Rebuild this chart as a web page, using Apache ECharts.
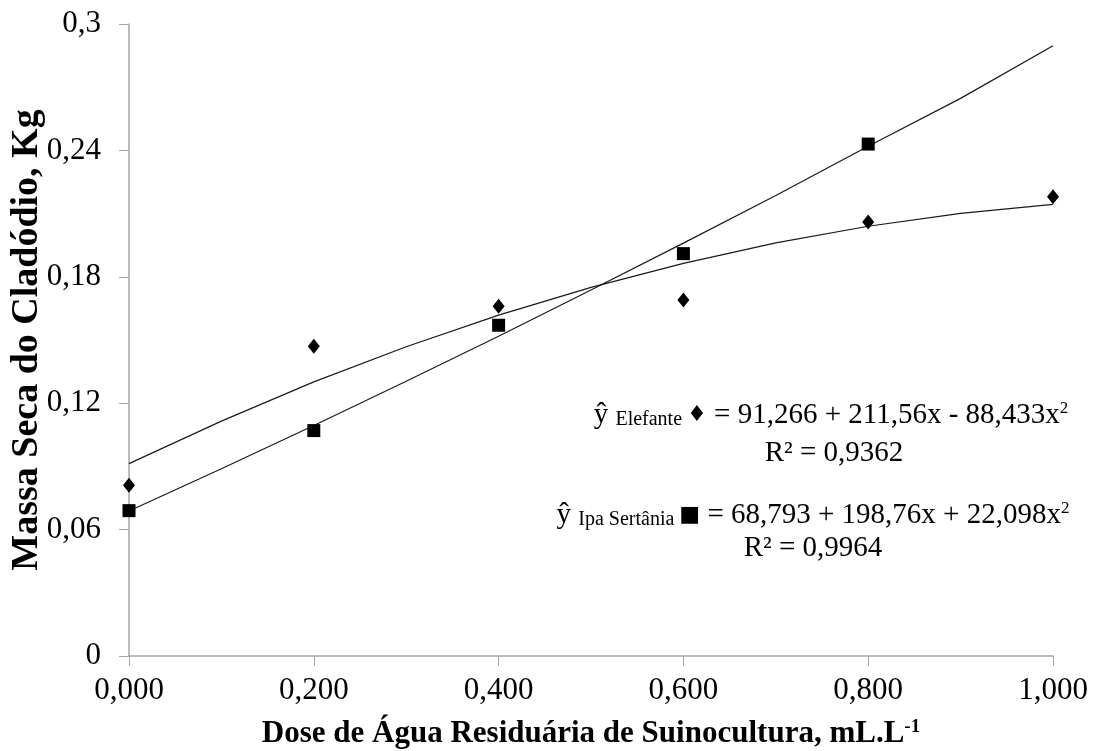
<!DOCTYPE html>
<html>
<head>
<meta charset="utf-8">
<script src="https://cdn.jsdelivr.net/npm/echarts@6/dist/echarts.min.js"></script>
<style>
html,body{margin:0;padding:0;background:#fff;}
#chart{width:1104px;height:751px;}
</style>
</head>
<body>
<div id="chart"></div>
<script>
// Observed doses (x) and measured values
var doses = [0, 0.2, 0.4, 0.6, 0.8, 1.0];
var elefante = [0.081, 0.147, 0.166, 0.169, 0.206, 0.218];
var ipaSertania = [0.069, 0.107, 0.157, 0.191, 0.243];
// Trend-line readings
var trendX = [0, 0.1, 0.2, 0.3, 0.4, 0.5, 0.6, 0.7, 0.8, 0.9, 1.0];
var elefanteTrend = [0.0913, 0.1115, 0.1301, 0.1468, 0.1618, 0.1750, 0.1864, 0.1961, 0.2040, 0.2101, 0.2144];
var ipaTrend = [0.0688, 0.0889, 0.1094, 0.1304, 0.1518, 0.1737, 0.1960, 0.2186, 0.2420, 0.2647, 0.2897];
var xTicks = {min: 0, max: 1, interval: 0.2};
var yTicks = {min: 0, max: 0.3, interval: 0.06};

function pairs(xs, ys) { return ys.map(function (v, i) { return [xs[i], v]; }); }

var FONT = '"Liberation Serif", "Times New Roman", serif';
var chart = echarts.init(document.getElementById('chart'));
var rich = {
  sub: {fontFamily: FONT, fontSize: 20, color: '#000', verticalAlign: 'bottom'},
  sup: {fontFamily: FONT, fontSize: 17, color: '#000', verticalAlign: 'top'},
  sym: {fontFamily: '"DejaVu Sans", sans-serif', fontSize: 22, color: '#000'},
  m: {fontFamily: FONT, fontSize: 29, color: '#000'}
};

chart.setOption({
  backgroundColor: '#fff',
  animation: false,
  grid: {left: 129, right: 51, top: 24, bottom: 95, containLabel: false, outerBoundsMode: 'none'},
  xAxis: {
    type: 'value', min: xTicks.min, max: xTicks.max, interval: xTicks.interval,
    splitLine: {show: false},
    axisLine: {lineStyle: {color: '#a6a6a6', width: 1.5}},
    axisTick: {show: true, length: 10, lineStyle: {color: '#a6a6a6'}},
    axisLabel: {fontFamily: FONT, fontSize: 31, color: '#000', margin: 19,
      formatter: function (v) { return v.toFixed(3).replace('.', ','); }},
    name: 'Dose de Água Residuária de Suinocultura, mL.L{sup|-1}',
    nameLocation: 'middle', nameGap: 62, nameMoveOverlap: false,
    nameTextStyle: {fontFamily: FONT, fontSize: 31, fontWeight: 'bold', color: '#000',
      rich: {sup: {fontFamily: FONT, fontSize: 19, fontWeight: 'bold', color: '#000', verticalAlign: 'top'}}}
  },
  yAxis: {
    type: 'value', min: yTicks.min, max: yTicks.max, interval: yTicks.interval,
    splitLine: {show: false},
    axisLine: {show: true, lineStyle: {color: '#a6a6a6', width: 1.5}},
    axisTick: {show: true, length: 10, lineStyle: {color: '#a6a6a6'}},
    axisLabel: {fontFamily: FONT, fontSize: 31, color: '#000', margin: 28,
      formatter: function (v) { return v === 0 ? '0' : String(Math.round(v * 100) / 100).replace('.', ','); }},
    name: 'Massa Seca do Cladódio, Kg',
    nameLocation: 'middle', nameGap: 83, nameMoveOverlap: false,
    nameTextStyle: {fontFamily: FONT, fontSize: 38, fontWeight: 'bold', color: '#000'}
  },
  series: [
    {type: 'line', data: pairs(trendX, elefanteTrend), showSymbol: false, symbol: 'none',
      lineStyle: {color: '#1a1a1a', width: 1.2}, z: 1, silent: true},
    {type: 'line', data: pairs(trendX, ipaTrend), showSymbol: false, symbol: 'none',
      lineStyle: {color: '#1a1a1a', width: 1.2}, z: 1, silent: true},
    {type: 'scatter', name: 'Elefante', data: pairs(doses, elefante), symbol: 'diamond',
      symbolSize: [12, 15], itemStyle: {color: '#000', opacity: 1}, z: 3},
    {type: 'scatter', name: 'Ipa Sertânia', data: pairs(doses, ipaSertania), symbol: 'rect',
      symbolSize: 13, itemStyle: {color: '#000', opacity: 1}, z: 3}
  ],
  graphic: [
    {type: 'text', x: 831, y: 415, style: {
      text: '{m|ŷ }{sub|Elefante }{sym|♦}{m| = 91,266 + 211,56x - 88,433x}{sup|2}',
      rich: rich, textAlign: 'center', textVerticalAlign: 'middle', font: '29px ' + FONT}},
    {type: 'text', x: 834, y: 453, style: {
      text: '{m|R² = 0,9362}', rich: rich, textAlign: 'center', textVerticalAlign: 'middle', font: '29px ' + FONT}},
    {type: 'text', x: 813, y: 515, style: {
      text: '{m|ŷ }{sub|Ipa Sertânia }{sym|■}{m| = 68,793 + 198,76x + 22,098x}{sup|2}',
      rich: rich, textAlign: 'center', textVerticalAlign: 'middle', font: '29px ' + FONT}},
    {type: 'text', x: 813, y: 548, style: {
      text: '{m|R² = 0,9964}', rich: rich, textAlign: 'center', textVerticalAlign: 'middle', font: '29px ' + FONT}}
  ]
});
</script>
</body>
</html>
